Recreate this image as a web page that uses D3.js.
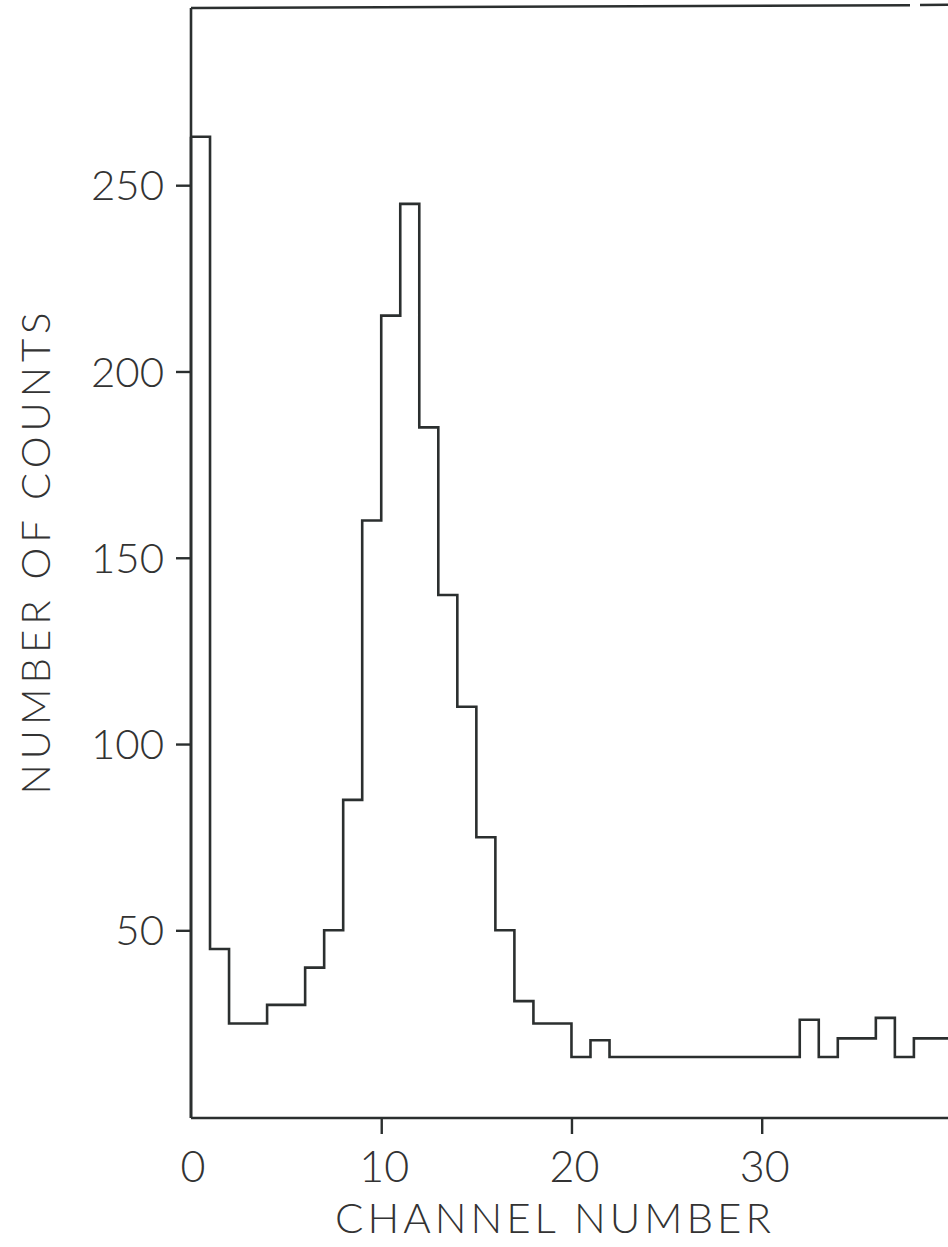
<!DOCTYPE html>
<html>
<head>
<meta charset="utf-8">
<script src="https://cdn.jsdelivr.net/npm/d3@7"></script>
<style>
  html, body { margin: 0; padding: 0; background: #ffffff; }
  svg { display: block; }
  text { font-family: Lato, "Open Sans", "DejaVu Sans", sans-serif; font-weight: 300; fill: #333333; }
</style>
</head>
<body>
<svg id="chart" width="948" height="1247"></svg>
<script>
// Counts per channel (one value per channel, channel 0 .. 39)
const channels = d3.range(0, 40);
const counts = [
  263, 45, 25, 25, 30, 30, 40, 50, 85, 160,
  215, 245, 185, 140, 110, 75, 50, 31, 25, 25,
  16, 20.5, 16, 16, 16, 16, 16, 16, 16, 16,
  16, 16, 26, 16, 21, 21, 26.5, 16, 21, 21
];
const xTicks = [10, 20, 30];
const xTickLabels = ["0", "10", "20", "30"];
const xLabelValues = [0, 10, 20, 30];
const yTicks = [50, 100, 150, 200, 250];
const xTitle = "CHANNEL NUMBER";
const yTitle = "NUMBER OF COUNTS";

const W = 948, H = 1247;
const svg = d3.select("#chart");
const ink = "#2b2f2f";
const lw = 2.6;

// Scales: channel axis and count axis
const x = d3.scaleLinear().domain([0, 30]).range([191, 761.7]);
const y = d3.scaleLinear().domain([0, 250]).range([1116.6, 185.2]);
const axisY = 1118;

// Frame: top border (with a small break near the right end)
svg.append("path")
  .attr("d", `M${x(0)},8 L910,5.2 M920,5 L${W},4.8`)
  .attr("fill", "none").attr("stroke", ink).attr("stroke-width", lw);

// Left axis
const yAxis = d3.axisLeft(y).tickValues(yTicks).tickSize(15).tickFormat("");
const gy = svg.append("g").attr("transform", `translate(${x(0)},0)`).call(yAxis);
gy.select(".domain").remove();
gy.selectAll(".tick line").attr("stroke", ink).attr("stroke-width", 2.4);
svg.append("line")
  .attr("x1", x(0)).attr("x2", x(0)).attr("y1", 8).attr("y2", axisY)
  .attr("stroke", ink).attr("stroke-width", lw);

// Bottom axis
const xAxis = d3.axisBottom(x).tickValues(xTicks).tickSize(16).tickFormat("");
const gx = svg.append("g").attr("transform", `translate(0,${axisY})`).call(xAxis);
gx.select(".domain").remove();
gx.selectAll(".tick line").attr("stroke", ink).attr("stroke-width", 2.4);
svg.append("line")
  .attr("x1", x(0)).attr("x2", W).attr("y1", axisY).attr("y2", axisY)
  .attr("stroke", ink).attr("stroke-width", lw);

// Y tick labels
svg.append("g").selectAll("text").data(yTicks).join("text")
  .attr("x", 164).attr("y", d => y(d)).attr("dy", "0.36em")
  .attr("text-anchor", "end").attr("font-size", 42)
  .text(d => d);

// X tick labels
svg.append("g").selectAll("text").data(xLabelValues).join("text")
  .attr("x", (d, i) => x(d) + (i === 0 ? 2 : 3)).attr("y", 1182)
  .attr("text-anchor", "middle").attr("font-size", 43)
  .text((d, i) => xTickLabels[i]);

// Axis titles
svg.append("text")
  .attr("x", 555).attr("y", 1233).attr("text-anchor", "middle")
  .attr("font-size", 42).attr("letter-spacing", 4)
  .attr("textLength", 440).attr("lengthAdjust", "spacingAndGlyphs")
  .text(xTitle);
svg.append("text")
  .attr("transform", "translate(50,551) rotate(-90)")
  .attr("text-anchor", "middle")
  .attr("font-size", 40).attr("letter-spacing", 5)
  .attr("textLength", 487).attr("lengthAdjust", "spacingAndGlyphs")
  .text(yTitle);

// Histogram outline drawn as a step line
const pts = channels.map(c => [c, counts[c]]);
pts.push([channels[channels.length - 1] + 1, counts[counts.length - 1]]);
const step = d3.line().x(d => x(d[0])).y(d => y(d[1])).curve(d3.curveStepAfter);
svg.append("path")
  .attr("d", step(pts))
  .attr("fill", "none").attr("stroke", ink).attr("stroke-width", lw)
  .attr("stroke-linejoin", "miter");
// close the first bar down to the axis
svg.append("line")
  .attr("x1", x(0)).attr("x2", x(0)).attr("y1", y(counts[0])).attr("y2", axisY)
  .attr("stroke", ink).attr("stroke-width", lw);
</script>
</body>
</html>
